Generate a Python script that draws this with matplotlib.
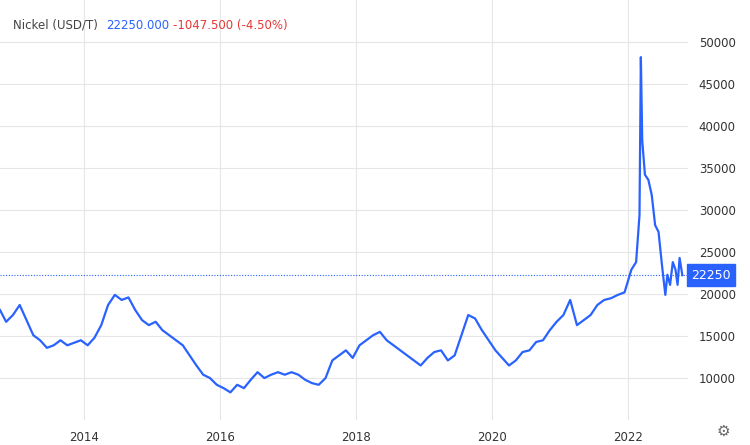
import matplotlib
matplotlib.use("Agg")
import matplotlib.pyplot as plt

years = [2012.76,2012.85,2012.95,2013.05,2013.15,2013.25,2013.35,2013.45,2013.55,2013.65,2013.75,2013.85,2013.95,
2014.05,2014.15,2014.25,2014.35,2014.45,2014.55,2014.65,2014.75,2014.85,2014.95,
2015.05,2015.15,2015.25,2015.35,2015.45,2015.55,2015.65,2015.75,2015.85,2015.95,
2016.05,2016.15,2016.25,2016.35,2016.45,2016.55,2016.65,2016.75,2016.85,2016.95,
2017.05,2017.15,2017.25,2017.35,2017.45,2017.55,2017.65,2017.75,2017.85,2017.95,
2018.05,2018.15,2018.25,2018.35,2018.45,2018.55,2018.65,2018.75,2018.85,2018.95,
2019.05,2019.15,2019.25,2019.35,2019.45,2019.55,2019.65,2019.75,2019.85,2019.95,
2020.05,2020.15,2020.25,2020.35,2020.45,2020.55,2020.65,2020.75,2020.85,2020.95,
2021.05,2021.15,2021.25,2021.35,2021.45,2021.55,2021.65,2021.75,2021.85,2021.95,
2022.05,2022.12,2022.17,2022.19,2022.21,2022.25,2022.30,2022.35,2022.40,2022.45,2022.50,
2022.55,2022.58,2022.62,2022.66,2022.70,2022.73,2022.76,2022.80]
prices = [18100,16700,17500,18700,16900,15100,14500,13600,13900,14500,13900,14200,14500,
13900,14800,16300,18700,19900,19300,19600,18100,16900,16300,
16700,15700,15100,14500,13900,12700,11500,10400,10000,9200,
8800,8300,9200,8800,9800,10700,10000,10400,10700,10400,
10700,10400,9800,9400,9200,10000,12100,12700,13300,12400,
13900,14500,15100,15500,14500,13900,13300,12700,12100,11500,
12400,13100,13300,12100,12700,15100,17500,17100,15700,14500,
13300,12400,11500,12100,13100,13300,14300,14500,15700,16700,
17500,19300,16300,16900,17500,18700,19300,19500,19900,20200,
22900,23800,29400,48200,38300,34200,33600,31800,28200,27400,23500,
19900,22300,21100,23800,22900,21100,24300,22250]
last = 22250
yticks = [10000,15000,20000,25000,30000,35000,40000,45000,50000]
xticks = [2014,2016,2018,2020,2022]

blue = "#2962ff"
fig = plt.figure(figsize=(7.5,4.45), dpi=100)
ax = fig.add_axes([0,0.056,0.917,0.944])
ax.plot(years, prices, color=blue, lw=1.6)
ax.axhline(last, color=blue, lw=0.8, ls=(0,(1,1.5)))
ax.set_xlim(2012.76, 2022.88)
ax.set_ylim(5000, 55000)
ax.yaxis.tick_right()
ax.set_yticks(yticks)
ax.set_yticklabels([str(v) for v in yticks])
ax.set_xticks(xticks)
ax.set_xticklabels([str(v) for v in xticks])
ax.tick_params(length=0, labelsize=8.5, colors="#333333", pad=8)
ax.grid(True, color="#e6e6e6", lw=0.8)
for s in ax.spines.values():
    s.set_visible(False)
ax.text(1.005, (last-5000)/50000, str(last), transform=ax.transAxes, va="center", ha="left",
        color="white", fontsize=9, bbox=dict(boxstyle="square,pad=0.35", fc=blue, ec=blue))
fig.text(0.017, 0.935, "Nickel (USD/T)", color="#444444", fontsize=8.5)
fig.text(0.142, 0.935, "22250.000", color=blue, fontsize=8.5)
fig.text(0.231, 0.935, "-1047.500 (-4.50%)", color="#e53935", fontsize=8.5)
fig.text(0.955, 0.02, "\u2699", color="#666666", fontsize=11)
fig.savefig("out.png", dpi=100)
